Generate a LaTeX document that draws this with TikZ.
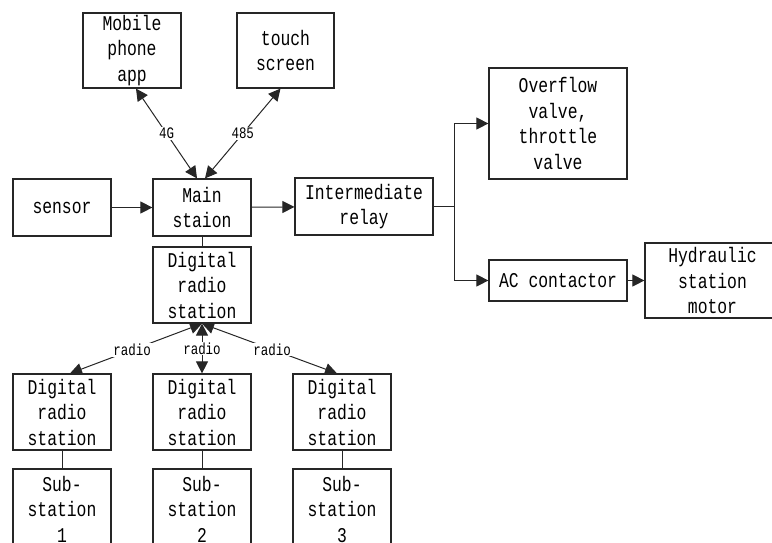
\documentclass[tikz,border=0pt]{standalone}
\usepackage{fontspec}
\setmainfont[FakeStretch=0.78]{Liberation Mono}
\usetikzlibrary{arrows.meta}
\begin{document}
\begin{tikzpicture}[x=1pt,y=-1pt,
  box/.style={draw=black!85,line width=1.2pt,inner sep=0pt,align=center,
    font=\fontsize{21}{25.5}\selectfont},
  conn/.style={line width=1pt,draw=black!85,-{Triangle[length=12pt,width=12pt]}},
  biconn/.style={line width=1pt,draw=black!85,{Triangle[length=12pt,width=12pt]}-{Triangle[length=12pt,width=12pt]}},
  plain/.style={line width=1pt,draw=black!85},
  lbl/.style={fill=white,inner sep=1pt,font=\fontsize{16}{18}\selectfont}]
\useasboundingbox (0,0) rectangle (772,542);
\clip (0,0) rectangle (772,542);
\node[box,minimum width=98pt,minimum height=75pt] (app) at (132,50.5) {Mobile\\phone\\app};
\node[box,minimum width=97pt,minimum height=75pt] (touch) at (285.5,50.5) {touch\\screen};
\node[box,minimum width=98pt,minimum height=57pt] (sensor) at (62,207.5) {sensor};
\node[box,minimum width=98pt,minimum height=57pt] (main) at (202,207.5) {Main\\staion};
\node[box,minimum width=138pt,minimum height=57pt] (relay) at (364,206.5) {Intermediate\\relay};
\node[box,minimum width=138pt,minimum height=111pt] (ovf) at (558,123.5) {Overflow\\valve,\\throttle\\valve};
\node[box,minimum width=138pt,minimum height=41pt] (ac) at (558,280.5) {AC contactor};
\node[box,minimum width=135pt,minimum height=75pt] (hyd) at (712.5,280.5) {Hydraulic\\station\\motor};
\node[box,minimum width=98pt,minimum height=76pt] (drs) at (202,285) {Digital\\radio\\station};
\node[box,minimum width=98pt,minimum height=76pt] (d1) at (62,412) {Digital\\radio\\station};
\node[box,minimum width=98pt,minimum height=76pt] (d2) at (202,412) {Digital\\radio\\station};
\node[box,minimum width=98pt,minimum height=76pt] (d3) at (342,412) {Digital\\radio\\station};
\node[box,minimum width=98pt,minimum height=80pt] (s1) at (62,509) {Sub-\\station\\1};
\node[box,minimum width=98pt,minimum height=80pt] (s2) at (202,509) {Sub-\\station\\2};
\node[box,minimum width=98pt,minimum height=80pt] (s3) at (342,509) {Sub-\\station\\3};
% connectors
\draw[biconn] ([xshift=4pt]app.south) -- node[lbl,pos=0.5]{4G} ([xshift=-5pt]main.north);
\draw[biconn] ([xshift=-5pt]touch.south) -- node[lbl,pos=0.5]{485} ([xshift=3pt]main.north);
\draw[conn] (sensor) -- (main);
\draw[conn] (main) -- (relay);
\draw[plain] (relay.east) -- ++(21,0) coordinate (br);
\draw[conn] (br) |- (ovf.west);
\draw[conn] (br) |- (ac.west);
\draw[conn] (ac) -- (hyd);
\draw[plain] (main.south) -- (drs.north);
\draw[biconn] (drs.south) -- node[lbl,pos=0.53]{radio} ([xshift=8pt]d1.north);
\draw[biconn] (drs.south) -- node[lbl,pos=0.5]{radio} (d2.north);
\draw[biconn] (drs.south) -- node[lbl,pos=0.52]{radio} ([xshift=-5pt]d3.north);
\draw[plain] (d1.south) -- (s1.north);
\draw[plain] (d2.south) -- (s2.north);
\draw[plain] (d3.south) -- (s3.north);
\end{tikzpicture}
\end{document}
